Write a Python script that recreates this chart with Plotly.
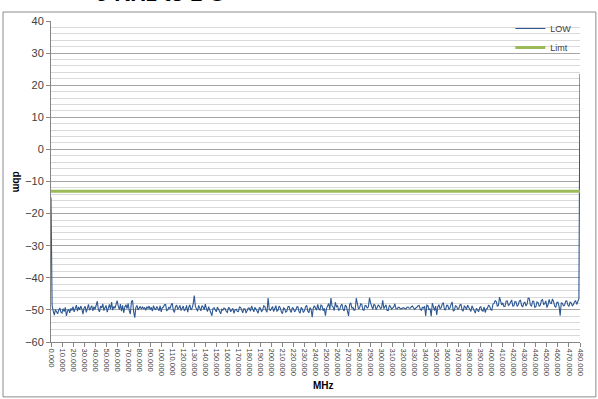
import plotly.graph_objects as go

# Sweep frequencies (MHz) and measured level (dBm) for the LOW channel
freq_mhz = list(range(0, 481))
low_dbm = [
    -15.0, -48.6, -50.3, -51.6, -49.9, -50.8, -51.2, -50.1, -49.4, -50.7,
    -51.0, -49.6, -50.5, -49.2, -51.9, -50.3, -49.8, -50.9, -49.5, -50.2,
    -49.0, -50.6, -49.3, -48.5, -50.4, -49.1, -50.0, -48.8, -49.7, -51.3,
    -49.4, -48.9, -50.8, -49.2, -48.3, -50.1, -49.6, -48.7, -50.3, -49.0,
    -49.8, -48.4, -47.3, -49.9, -50.6, -48.8, -49.4, -48.1, -50.2, -49.3,
    -48.6, -50.7, -49.0, -48.3, -49.8, -47.6, -50.1, -48.9, -49.5, -47.9,
    -47.1, -48.8, -49.9, -48.2, -50.4, -48.6, -50.9, -49.1, -48.4, -49.6,
    -48.0, -50.2, -51.3, -47.4, -47.0, -50.6, -52.4, -49.2, -48.6, -50.0,
    -49.4, -48.9, -49.7, -49.1, -49.6, -49.3, -50.1, -49.0, -49.5, -48.8,
    -49.9, -49.2, -50.4, -48.7, -49.6, -50.0, -48.9, -49.4, -50.3, -48.7,
    -50.6, -49.3, -49.1, -48.4, -48.3, -50.2, -50.0, -49.1, -49.6, -48.5,
    -47.9, -50.1, -50.8, -49.0, -48.5, -49.7, -49.4, -48.6, -50.2, -49.5,
    -48.8, -50.3, -49.9, -48.6, -50.7, -49.2, -48.4, -50.0, -49.5, -48.1,
    -45.5, -48.9, -49.8, -50.4, -48.6, -49.3, -50.3, -48.7, -49.1, -50.0,
    -48.2, -49.6, -50.5, -49.0, -49.7, -50.9, -51.8, -49.5, -49.3, -50.2,
    -50.6, -49.1, -49.9, -50.7, -51.2, -49.8, -50.1, -49.4, -49.6, -50.5,
    -50.8, -49.3, -49.4, -50.6, -50.2, -49.5, -51.1, -50.0, -49.8, -50.4,
    -50.5, -49.1, -49.2, -50.3, -50.9, -49.6, -49.7, -51.0, -50.3, -49.4,
    -49.5, -50.4, -48.8, -49.6, -50.6, -49.2, -49.9, -50.8, -51.0, -49.3,
    -49.4, -50.5, -50.2, -48.7, -48.9, -50.1, -50.7, -46.3, -49.6, -50.3,
    -49.8, -48.9, -50.5, -49.2, -48.7, -50.4, -50.1, -48.8, -49.3, -50.6,
    -51.2, -49.4, -49.6, -50.7, -50.4, -49.0, -48.9, -50.2, -50.8, -49.3,
    -49.5, -50.6, -50.2, -49.1, -49.0, -50.5, -51.0, -49.2, -49.7, -50.8,
    -50.3, -49.0, -48.6, -50.4, -50.9, -49.3, -49.8, -52.3, -49.4, -48.7,
    -49.2, -50.1, -48.3, -49.7, -50.0, -48.5, -48.8, -50.3, -49.5, -51.8,
    -49.5, -48.4, -48.0, -49.9, -46.3, -48.8, -49.1, -50.2, -47.6, -49.0,
    -48.7, -50.1, -49.9, -48.6, -48.2, -49.8, -50.3, -48.5, -48.9, -50.4,
    -51.9, -48.3, -47.8, -49.5, -49.2, -50.1, -50.0, -46.3, -48.6, -49.7,
    -49.4, -48.1, -48.3, -50.0, -50.1, -48.6, -48.7, -49.5, -49.0, -46.2,
    -47.9, -49.2, -49.8, -48.3, -48.5, -50.0, -49.3, -48.4, -48.9, -49.6,
    -49.3, -47.0, -49.6, -48.7, -48.4, -50.2, -50.2, -48.6, -48.9, -49.8,
    -49.5, -49.1, -48.1, -49.6, -49.7, -49.2, -49.2, -49.7, -49.6, -49.3,
    -49.3, -49.6, -49.7, -49.2, -49.1, -49.5, -49.5, -49.0, -48.8, -49.4,
    -49.9, -49.4, -49.2, -48.7, -48.6, -49.8, -50.1, -49.2, -49.4, -48.9,
    -51.9, -48.5, -48.7, -49.9, -49.6, -52.0, -47.9, -49.0, -50.2, -48.8,
    -51.6, -49.0, -48.4, -49.7, -49.3, -48.2, -47.7, -49.9, -50.0, -48.6,
    -48.6, -49.8, -49.4, -48.3, -47.5, -50.4, -50.1, -48.7, -48.9, -49.8,
    -49.6, -48.5, -48.2, -50.0, -50.4, -48.8, -49.1, -49.9, -48.5, -49.2,
    -49.8, -50.5, -48.7, -49.4, -50.3, -51.0, -49.5, -49.9, -50.6, -49.3,
    -49.0, -50.2, -50.4, -49.1, -50.8, -49.7, -49.5, -48.6, -48.8, -49.9,
    -50.1, -48.2, -48.0, -47.1, -47.4, -48.8, -48.6, -46.0, -47.8, -48.5,
    -47.8, -49.0, -48.9, -47.3, -47.2, -48.6, -48.3, -47.5, -46.9, -48.8,
    -48.7, -47.4, -47.5, -48.9, -48.4, -47.2, -47.0, -48.6, -49.1, -47.9,
    -47.6, -48.8, -48.2, -46.3, -46.4, -48.5, -48.8, -47.3, -47.3, -49.2,
    -49.0, -47.5, -47.7, -48.9, -48.5, -47.0, -46.8, -48.3, -48.1, -47.2,
    -49.3, -48.4, -46.7, -47.9, -48.0, -46.6, -47.4, -48.8, -49.2, -47.7,
    -47.6, -48.9, -51.8, -47.8, -47.9, -48.7, -48.6, -47.3, -47.2, -48.5,
    -48.9, -47.6, -47.8, -48.7, -48.4, -47.5, -47.1, -48.3, -47.0, -46.5,
    23.5,
]

# Emission limit (dBm)
limit_dbm = -13
limit_span = [0, 480]

x_ticks = list(range(0, 481, 10))
y_ticks = list(range(-60, 41, 10))

fig = go.Figure()
fig.add_trace(go.Scatter(
    x=freq_mhz, y=low_dbm, mode="lines", name="LOW",
    line=dict(color="#2D5893", width=1.1),
))
fig.add_trace(go.Scatter(
    x=limit_span, y=[limit_dbm, limit_dbm], mode="lines", name="Limt",
    line=dict(color="#9BBB59", width=3),
))

grey_text = "#404040"
fig.update_layout(
    width=598, height=399,
    margin=dict(l=51, r=18, t=21, b=57),
    paper_bgcolor="white", plot_bgcolor="white",
    font=dict(family="Liberation Sans, Arial, sans-serif", size=10, color=grey_text),
    showlegend=True,
    legend=dict(
        x=0.995, xanchor="right", y=1.022, yanchor="top",
        bgcolor="rgba(0,0,0,0)", font=dict(size=9, color=grey_text),
        itemwidth=30, tracegroupgap=0,
    ),
    xaxis=dict(
        range=[0, 480], tickmode="array", tickvals=x_ticks,
        ticktext=[f"{v:.3f}" for v in x_ticks],
        tickangle=90,
        tickfont=dict(size=7.6, color=grey_text),
        ticks="outside", ticklen=4, tickcolor="#868686",
        showline=True, linecolor="#868686", linewidth=1,
        showgrid=False, zeroline=False, automargin=False,
    ),
    yaxis=dict(
        range=[-60, 40], tickmode="array", tickvals=y_ticks,
        tickfont=dict(size=11, color=grey_text),
        ticks="outside", ticklen=4, tickcolor="#868686",
        showline=True, linecolor="#868686", linewidth=1,
        showgrid=True, gridcolor="#A6A6A6", gridwidth=1,
        minor=dict(dtick=2, showgrid=True, gridcolor="#D9D9D9", gridwidth=1, ticks=""),
        zeroline=False, automargin=False,
    ),
    shapes=[
        # chart-area frame
        dict(type="rect", xref="paper", yref="paper",
             x0=-0.0907, x1=1.030, y0=-0.171, y1=1.028,
             line=dict(color="#8C8C8C", width=1), fillcolor="rgba(0,0,0,0)", layer="below"),
    ],
    annotations=[
        dict(text="<b>MHz</b>", xref="paper", yref="paper", x=0.516, y=-0.134,
             xanchor="center", yanchor="middle", showarrow=False,
             font=dict(size=10, color="black")),
        dict(text="<b>dbm</b>", xref="paper", yref="paper", x=-0.080, y=0.5,
             textangle=90, showarrow=False, font=dict(size=10, color="black")),
        dict(text="<b>9 KHz to 1 G</b>", xref="paper", yref="paper", x=0.208, y=1.041,
             xanchor="center", yanchor="bottom", showarrow=False,
             font=dict(size=22, color="black")),
    ],
)

fig.write_html("out.html")
